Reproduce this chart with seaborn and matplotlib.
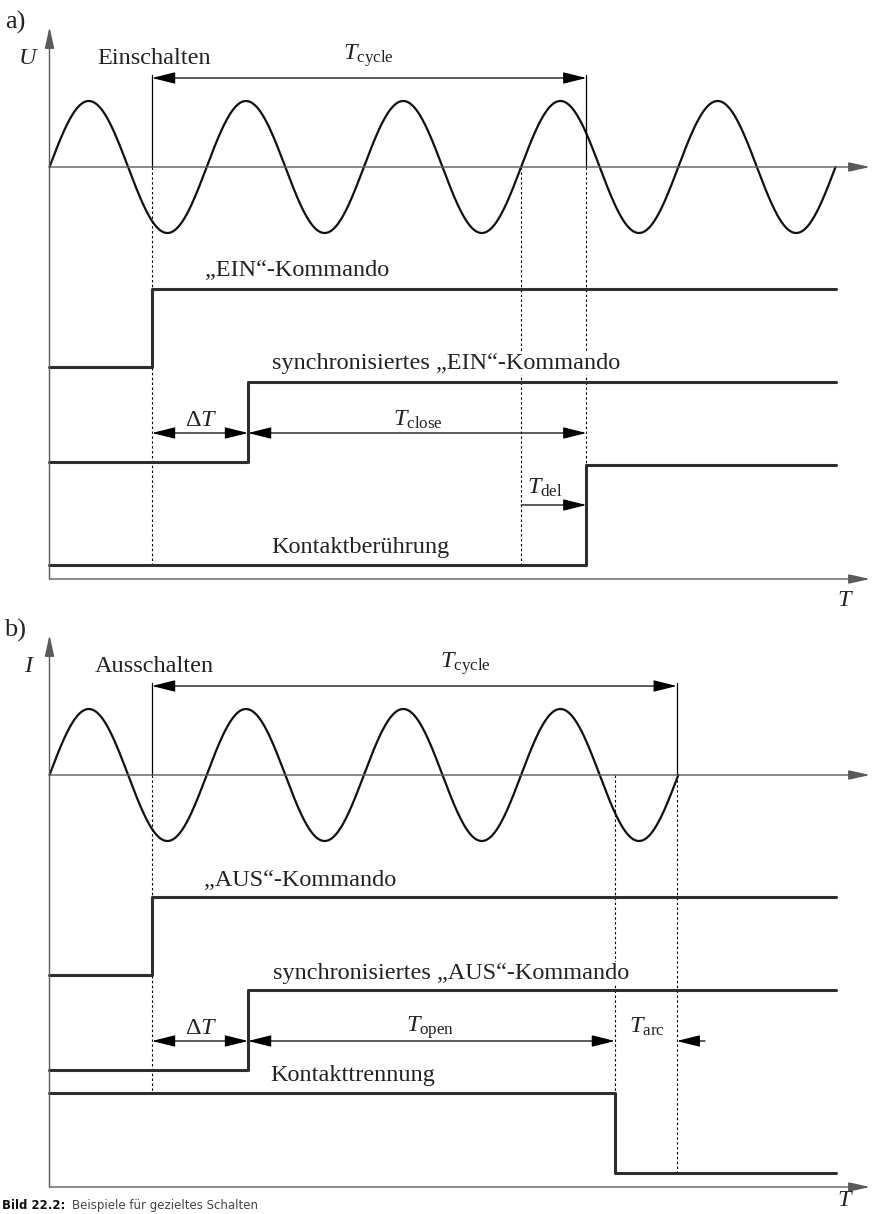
import numpy as np
import pandas as pd
import matplotlib
matplotlib.use("Agg")
import matplotlib.pyplot as plt
import seaborn as sns

# ---------------- data (times in sine periods) ----------------
periods_a = 5          # voltage periods drawn in a)
periods_b = 4          # current periods drawn in b)
t_cmd = 0.652          # switching command ("EIN"/"AUS")
t_sync = 1.263         # synchronised command
t_zero_a = 3.0         # voltage zero before contact touch
t_touch = 3.415        # contact touch (a)
t_sep = 3.597          # contact separation (b)
t_zero_b = 3.99        # current zero (b)
t_end = 5.0            # end of the step traces

labels_a = ["„EIN“-Kommando", "synchronisiertes „EIN“-Kommando", "Kontaktberührung"]
labels_b = ["„AUS“-Kommando", "synchronisiertes „AUS“-Kommando", "Kontakttrennung"]
state_before_a = [0, 0, 0]
state_after_a = [1, 1, 1]
state_before_b = [0, 0, 1]
state_after_b = [1, 1, 0]

# ---------------- layout ----------------
W, H = 873, 1214
P, X0 = 157.2, 49.5
def tx(px):
    return (px - X0) / P

sns.set_theme(style="white")
plt.rcParams['font.family'] = ['Liberation Serif', 'DejaVu Serif']
plt.rcParams['mathtext.fontset'] = 'custom'
plt.rcParams['mathtext.rm'] = 'Liberation Serif'
plt.rcParams['mathtext.it'] = 'Liberation Serif:italic'

fig = plt.figure(figsize=(W / 100, H / 100), dpi=100)
ax = fig.add_axes([0, 0, 1, 1])
ax.set_xlim(tx(0), tx(W))
ax.set_ylim(H, 0)
ax.axis('off')

FS = 17.5
AX_C = '#5a5a5a'
STEP_C = '#2e2e2e'
DOT = (0, (2.2, 2.2))

def arrow(x1, y1, x2, y2, style='-|>', color='black', lw=0.9, hl=20, hw=5):
    ms = 10
    ax.annotate('', xy=(x2, y2), xytext=(x1, y1),
                arrowprops=dict(arrowstyle=f'{style},head_length={hl*0.72/ms},head_width={hw*0.72/ms}',
                                color=color, lw=lw, shrinkA=0, shrinkB=0,
                                mutation_scale=ms))

def label(x, y, s, **kw):
    ax.text(tx(x), y, s, ha='center', va='center', fontsize=FS, color='#222222',
            bbox=dict(facecolor='white', edgecolor='none', pad=0.5), **kw)

def vline(x, y1, y2, dotted=False):
    ax.plot([tx(x), tx(x)], [y1, y2], color='black', lw=0.8 if dotted else 0.9,
            linestyle=DOT if dotted else '-', zorder=1)

def panel(dy, letter, var, title, n_per, labels, sb, sa, t_edges,
          levels, label_pos, cyc_x, t_cycle_end, t_label_y):
    # axes
    arrow(0, 579 + dy, 0, 27 + dy, color=AX_C, lw=1.0, hl=18, hw=4)
    arrow(0, 167 + dy, tx(870), 167 + dy, color=AX_C, lw=1.0, hl=18, hw=4)
    arrow(0, 579 + dy, tx(870), 579 + dy, color=AX_C, lw=1.0, hl=18, hw=4)
    ax.text(tx(15), 22 + dy, letter, ha='center', va='center', fontsize=19, color='#222')
    ax.text(tx(28), 58 + dy, var, ha='center', va='center', fontsize=FS, style='italic', color='#222')
    ax.text(tx(154), 58 + dy, title, ha='center', va='center', fontsize=FS, color='#222')
    ax.text(tx(844), t_label_y + dy, 'T', ha='center', va='center', fontsize=FS, style='italic', color='#222')
    # sine
    t = np.linspace(0, n_per, 1200)
    df = pd.DataFrame({'t': t, 'y': 167 + dy - 66 * np.sin(2 * np.pi * t)})
    sns.lineplot(data=df, x='t', y='y', ax=ax, color='#111111', lw=1.6,
                 sort=False, estimator=None, legend=False)
    # steps
    for lab, b, a, te, (lo, hi), (lx, ly) in zip(labels, sb, sa, t_edges, levels, label_pos):
        yb = hi + dy if b else lo + dy
        ya = hi + dy if a else lo + dy
        d = pd.DataFrame({'t': [0, te, t_end], 'y': [yb, ya, ya]})
        sns.lineplot(data=d, x='t', y='y', ax=ax, color=STEP_C, lw=2.2,
                     drawstyle='steps-post', sort=False, estimator=None, legend=False)
        label(lx, ly + dy, lab)
    # T_cycle
    arrow(t_cmd, 78 + dy, t_cycle_end, 78 + dy, style='<|-|>')
    ax.plot([t_cmd, t_cmd], [75 + dy, 167 + dy], color='black', lw=0.9)
    ax.plot([t_cycle_end, t_cycle_end], [75 + dy, 167 + dy], color='black', lw=0.9)
    ax.text(tx(cyc_x), 56 + dy, r'$T_{\mathrm{cycle}}$', ha='center', va='center', fontsize=FS, color='#222')
    # delta T
    arrow(t_cmd, 433 + dy, t_sync, 433 + dy, style='<|-|>')
    ax.text(tx(201), 420 + dy, r'$\Delta T$', ha='center', va='center', fontsize=FS, color='#222')

# ---------- panel a ----------
panel(0, 'a)', 'U', 'Einschalten', periods_a, labels_a,
      state_before_a, state_after_a, [t_cmd, t_sync, t_touch],
      [(367, 289), (462, 382), (565, 465)],
      [(297, 271), (446, 364), (360, 547)], 368, t_touch, 600)
vline(152, 167, 565, True)
vline(X0 + P * t_zero_a, 167, 565, True)
vline(X0 + P * t_touch, 167, 465, True)
arrow(t_sync, 433, t_touch, 433, style='<|-|>')
ax.text(tx(418), 420, r'$T_{\mathrm{close}}$', ha='center', va='center', fontsize=FS, color='#222')
arrow(t_zero_a, 505, t_touch, 505, style='-|>')
ax.text(tx(545), 488, r'$T_{\mathrm{del}}$', ha='center', va='center', fontsize=FS, color='#222')

# ---------- panel b ----------
D = 608
panel(D, 'b)', 'I', 'Ausschalten', periods_b, labels_b,
      state_before_b, state_after_b, [t_cmd, t_sync, t_sep],
      [(367, 289), (462, 382), (565, 485)],
      [(300, 272), (451, 365), (353, 468)], 465, t_zero_b, 592)
vline(152, 167 + D, 485 + D, True)
vline(X0 + P * t_sep, 167 + D, 485 + D, True)
vline(X0 + P * t_zero_b, 167 + D, 565 + D, True)
arrow(t_sync, 433 + D, t_sep, 433 + D, style='<|-|>')
ax.text(tx(430), 420 + D, r'$T_{\mathrm{open}}$', ha='center', va='center', fontsize=FS, color='#222')
arrow(tx(705), 433 + D, t_zero_b, 433 + D, style='-|>')
ax.text(tx(647), 419 + D, r'$T_{\mathrm{arc}}$', ha='center', va='center', fontsize=FS, color='#222')

# caption at the bottom edge
ax.text(tx(2), 1212, 'Bild 22.2:', ha='left', va='bottom', fontsize=8.5,
        family='DejaVu Sans', weight='bold', color='#111')
ax.text(tx(72), 1212, 'Beispiele für gezieltes Schalten', ha='left', va='bottom', fontsize=8.5,
        family='DejaVu Sans', color='#444')

fig.savefig('out.png', dpi=100)
